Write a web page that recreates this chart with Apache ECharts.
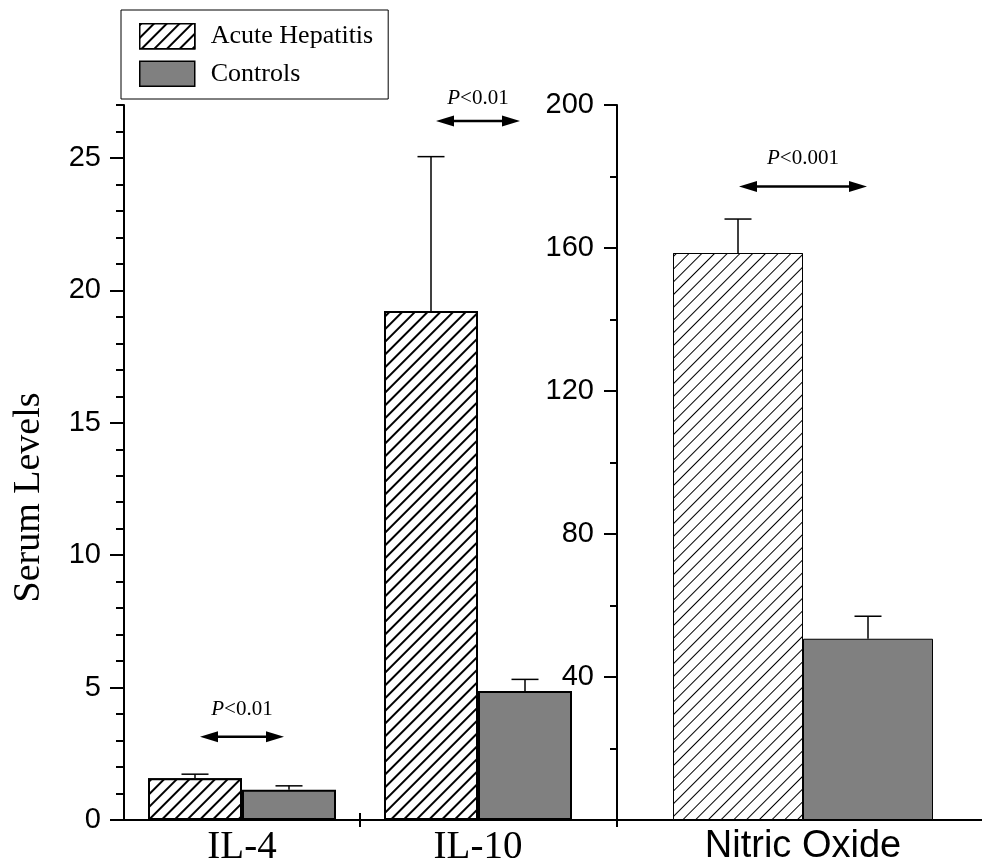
<!DOCTYPE html>
<html><head><meta charset="utf-8">
<script src="https://cdn.jsdelivr.net/npm/echarts@6/dist/echarts.min.js"></script>
<style>html,body{margin:0;padding:0;background:#fff}#c{width:982px;height:866px}</style>
</head><body><div id="c"></div>
<script>
// ---------- data ----------
const cytokineCategories = ['IL-4', 'IL-10'];
const noCategories = ['Nitric Oxide'];
const seriesNames = ['Acute Hepatitis', 'Controls'];
const acuteCytokine = [1.58, 19.22];
const acuteCytokineErrTop = [1.73, 25.05];
const controlCytokine = [1.14, 4.87];
const controlCytokineErrTop = [1.29, 5.31];
const acuteNO = [158.6];
const acuteNOErrTop = [168.1];
const controlNO = [50.7];
const controlNOErrTop = [57.0];
const leftTickLabels = [0, 5, 10, 15, 20, 25];
const rightTickLabels = [40, 80, 120, 160, 200];
const annotationGroups = ['IL-4', 'IL-10', 'Nitric Oxide'];
const annotationText = ['<0.01', '<0.01', '<0.001'];
const arrowLevels = [3.14, 26.4, 177.2];
const labelLevels = [4.18, 27.25, 184.9];

// ---------- layout constants ----------
const SERIF = 'Liberation Serif, Times New Roman, serif';
const SANS = 'Liberation Sans, Arial, sans-serif';
const G1 = {left: 124, top: 105, width: 472, height: 715};
const G2 = {left: 596, top: 105, width: 414, height: 715};
const NO_AXIS_OFFSET = -21;

function hatch(lineW, gap) {
  return {symbol: 'rect', symbolSize: 1, dashArrayX: [1, 0], dashArrayY: [lineW, gap],
          rotation: -Math.PI / 4, color: '#000', backgroundColor: '#fff'};
}
function errRender(sign, halfBar, capHalf, lw) {
  return function (params, api) {
    const c = api.value(0);
    const base = api.coord([c, api.value(1)]);
    const top = api.coord([c, api.value(2)]);
    const x = base[0] + sign * halfBar;
    return {type: 'group', children: [
      {type: 'line', shape: {x1: x, y1: base[1], x2: x, y2: top[1]}, style: {stroke: '#000', lineWidth: lw}},
      {type: 'line', shape: {x1: x - capHalf, y1: top[1], x2: x + capHalf, y2: top[1]}, style: {stroke: '#000', lineWidth: lw}}
    ]};
  };
}
function errData(vals, tops) { return vals.map((v, i) => [i, v, tops[i]]); }

const axisBlack = {lineStyle: {color: '#000', width: 2}};

const option = {
  animation: false,
  backgroundColor: '#fff',
  legend: {
    data: seriesNames, orient: 'vertical', left: 121, top: 10,
    padding: [13, 15, 12, 18], itemGap: 11, itemWidth: 55, itemHeight: 25,
    borderColor: '#000', borderWidth: 1, borderRadius: 0,
    icon: 'rect', selectedMode: false,
    itemStyle: {borderColor: '#000', borderWidth: 1.5},
    textStyle: {fontFamily: SERIF, fontSize: 26, color: '#000', padding: [0, 0, 0, 11]}
  },
  grid: [
    Object.assign({containLabel: false, outerBoundsMode: 'none'}, G1),
    Object.assign({containLabel: false, outerBoundsMode: 'none'}, G2)
  ],
  xAxis: [
    {type: 'category', gridIndex: 0, data: cytokineCategories, axisLine: axisBlack,
     axisTick: {show: false}, splitLine: {show: false},
     axisLabel: {fontFamily: SERIF, fontSize: 39, color: '#000', margin: 8}},
    {type: 'category', gridIndex: 1, data: noCategories, axisLine: axisBlack,
     axisTick: {show: false}, splitLine: {show: false},
     axisLabel: {fontFamily: SANS, fontSize: 38, color: '#000', margin: 8}}
  ],
  yAxis: [
    {type: 'value', gridIndex: 0, min: 0, max: 27, interval: 1, position: 'left',
     axisLine: {show: true, lineStyle: {color: '#000', width: 2}},
     axisTick: {show: true, length: 8, lineStyle: {color: '#000', width: 2}},
     splitLine: {show: false},
     axisLabel: {fontFamily: SANS, fontSize: 29, color: '#000', margin: 23,
       formatter: v => leftTickLabels.indexOf(v) >= 0 ? String(v) : ''},
     name: 'Serum Levels', nameLocation: 'middle', nameGap: 76,
     nameTextStyle: {fontFamily: SERIF, fontSize: 38, color: '#000', padding: [0, 70, 0, 0]}},
    {type: 'value', gridIndex: 1, min: 0, max: 200, interval: 40, position: 'left', offset: NO_AXIS_OFFSET,
     axisLine: {show: true, lineStyle: {color: '#000', width: 2}},
     axisTick: {show: true, length: 13, lineStyle: {color: '#000', width: 2}},
     minorTick: {show: true, splitNumber: 2, length: 7, lineStyle: {color: '#000', width: 2}},
     splitLine: {show: false}, minorSplitLine: {show: false},
     axisLabel: {fontFamily: SANS, fontSize: 29, color: '#000', margin: 23,
       formatter: v => rightTickLabels.indexOf(v) >= 0 ? String(v) : ''}},
    {type: 'value', gridIndex: 0, min: 0, max: 27, position: 'left',
     axisLine: {show: false},
     axisTick: {show: true, length: 14, customValues: leftTickLabels, lineStyle: {color: '#000', width: 2}},
     axisLabel: {show: false}, splitLine: {show: false}}
  ],
  series: [
    {name: seriesNames[0], type: 'bar', xAxisIndex: 0, yAxisIndex: 0, data: acuteCytokine,
     barWidth: 94, barGap: '0%',
     itemStyle: {color: '#fff', borderColor: '#000', borderWidth: 2, decal: hatch(2, 7)}},
    {name: seriesNames[1], type: 'bar', xAxisIndex: 0, yAxisIndex: 0, data: controlCytokine,
     barWidth: 94, barGap: '0%',
     itemStyle: {color: '#808080', borderColor: '#000', borderWidth: 2}},
    {name: seriesNames[0], type: 'bar', xAxisIndex: 1, yAxisIndex: 1, data: acuteNO,
     barWidth: 130, barGap: '0%',
     itemStyle: {color: '#fff', borderColor: '#000', borderWidth: 1, decal: hatch(1, 8)}},
    {name: seriesNames[1], type: 'bar', xAxisIndex: 1, yAxisIndex: 1, data: controlNO,
     barWidth: 130, barGap: '0%',
     itemStyle: {color: '#808080', borderColor: '#000', borderWidth: 1}},
    {name: 'errA1', type: 'custom', xAxisIndex: 0, yAxisIndex: 0, z: 5,
     renderItem: errRender(-1, 47, 13.5, 1.5), data: errData(acuteCytokine, acuteCytokineErrTop)},
    {name: 'errC1', type: 'custom', xAxisIndex: 0, yAxisIndex: 0, z: 5,
     renderItem: errRender(1, 47, 13.5, 1.5), data: errData(controlCytokine, controlCytokineErrTop)},
    {name: 'errA2', type: 'custom', xAxisIndex: 1, yAxisIndex: 1, z: 5,
     renderItem: errRender(-1, 65, 13.5, 1.5), data: errData(acuteNO, acuteNOErrTop)},
    {name: 'errC2', type: 'custom', xAxisIndex: 1, yAxisIndex: 1, z: 5,
     renderItem: errRender(1, 65, 13.5, 1.5), data: errData(controlNO, controlNOErrTop)}
  ]
};

const chart = echarts.init(document.getElementById('c'));
chart.setOption(option);

// ---------- annotations & axis cross-ticks (positions from the axes' scales) ----------
const graphics = [];
const axisY = chart.convertToPixel({yAxisIndex: 0}, 0);
const c0 = chart.convertToPixel({xAxisIndex: 0}, cytokineCategories[0]);
const c1 = chart.convertToPixel({xAxisIndex: 0}, cytokineCategories[1]);
const tickXs = [(c0 + c1) / 2, G2.left - NO_AXIS_OFFSET];
tickXs.forEach(x => graphics.push({type: 'line', shape: {x1: x, y1: axisY - 7, x2: x, y2: axisY + 7},
  style: {stroke: '#000', lineWidth: 2}, z: 10}));

const halfWidths = [42, 42, 64];
annotationGroups.forEach((grp, i) => {
  const isNO = noCategories.indexOf(grp) >= 0;
  const ai = isNO ? 1 : 0;
  const cx = chart.convertToPixel({xAxisIndex: ai}, grp);
  const ay = chart.convertToPixel({yAxisIndex: ai}, arrowLevels[i]);
  const ty = chart.convertToPixel({yAxisIndex: ai}, labelLevels[i]);
  const hw = halfWidths[i], hl = 18, hh = 5.5;
  graphics.push({type: 'line', shape: {x1: cx - hw + hl - 2, y1: ay, x2: cx + hw - hl + 2, y2: ay},
    style: {stroke: '#000', lineWidth: 2.5}, z: 10});
  graphics.push({type: 'polygon', shape: {points: [[cx - hw, ay], [cx - hw + hl, ay - hh], [cx - hw + hl, ay + hh]]},
    style: {fill: '#000'}, z: 10});
  graphics.push({type: 'polygon', shape: {points: [[cx + hw, ay], [cx + hw - hl, ay - hh], [cx + hw - hl, ay + hh]]},
    style: {fill: '#000'}, z: 10});
  graphics.push({type: 'text', x: cx, y: ty, z: 10,
    style: {text: '{i|P}{n|' + annotationText[i] + '}', align: 'center', verticalAlign: 'middle',
      rich: {i: {fontFamily: SERIF, fontStyle: 'italic', fontSize: 21, fill: '#000'},
             n: {fontFamily: SERIF, fontSize: 21, fill: '#000'}}}});
});
chart.setOption({graphic: graphics});
</script>
</body></html>
